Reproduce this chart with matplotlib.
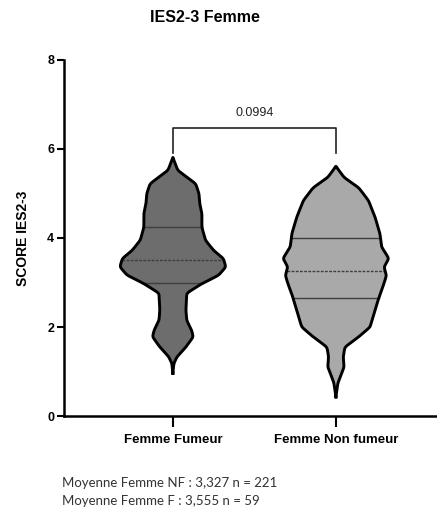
import numpy as np
import matplotlib.pyplot as plt
from matplotlib import font_manager

# === DONNEES ===
groupes = ["Femme Fumeur", "Femme Non fumeur"]
couleurs = ["#6d6d6d", "#a9a9aa"]

# profils des violons (score, demi-largeur)
fumeur_y = [0.96, 1.18, 1.33, 1.55, 1.78, 1.93, 2.15, 2.38, 2.76, 2.98, 3.16, 3.35, 3.54,
            3.72, 3.95, 4.24, 4.55, 4.77, 5.0, 5.22, 5.52, 5.81]
fumeur_w = [0.0, 0.006, 0.025, 0.08, 0.125, 0.115, 0.085, 0.08, 0.085, 0.18, 0.28, 0.325, 0.31,
            0.25, 0.2, 0.178, 0.178, 0.165, 0.16, 0.14, 0.03, 0.0]
nonfumeur_y = [0.43, 0.74, 0.87, 1.1, 1.33, 1.55, 1.78, 2.0, 2.31, 2.68, 2.98, 3.16, 3.35,
               3.54, 3.8, 4.1, 4.47, 4.84, 5.13, 5.36, 5.61]
nonfumeur_w = [0.0, 0.012, 0.025, 0.05, 0.045, 0.055, 0.14, 0.21, 0.235, 0.265, 0.295, 0.31, 0.295,
               0.325, 0.28, 0.27, 0.24, 0.2, 0.14, 0.05, 0.0]

# quartiles (Q1, mediane, Q3)
quartiles = [(2.98, 3.5, 4.25), (2.65, 3.25, 4.01)]
p_valeur = "0.0994"
notes = ["Moyenne Femme NF : 3,327 n = 221", "Moyenne Femme F : 3,555 n = 59"]

noms = {f.name for f in font_manager.fontManager.ttflist}
etroit = "Liberation Sans Narrow" if "Liberation Sans Narrow" in noms else "Liberation Sans"
plt.rcParams['font.family'] = [etroit, 'DejaVu Sans']


def lisse(y, w):
    yy = np.linspace(y[0], y[-1], 400)
    ww = np.interp(yy, y, w)
    k = np.exp(-0.5 * (np.arange(-8, 9) / 2.5) ** 2)
    k /= k.sum()
    pad = np.pad(ww, 8, mode='edge')
    ww2 = np.convolve(pad, k, mode='same')[8:-8]
    ww2[0] = ww2[-1] = 0
    return yy, ww2


fig = plt.figure(figsize=(4.37, 5.08), dpi=100)
ax = fig.add_axes([0.146, 0.181, 0.854, 0.701])

profils = [(fumeur_y, fumeur_w), (nonfumeur_y, nonfumeur_w)]
for i, (py, pw) in enumerate(profils):
    yy, ww = lisse(py, pw)
    ax.fill_betweenx(yy, i - ww, i + ww, color=couleurs[i], lw=0, zorder=2)
    ax.plot(np.r_[i - ww, (i + ww)[::-1]], np.r_[yy, yy[::-1]], color="black", lw=2.1,
            zorder=4, solid_joinstyle="round")
    for j, q in enumerate(quartiles[i]):
        half = np.interp(q, yy, ww)
        ax.plot([i - half, i + half], [q, q], color="#3e3e3e", lw=1.0,
                ls=(0, (2, 1)) if j == 1 else "-", zorder=3)

# crochet de significativite
ax.plot([0, 0, 1, 1], [5.92, 6.46, 6.46, 5.92], color="#222222", lw=1.2, zorder=4)
ax.text(0.5, 6.68, p_valeur, ha="center", va="bottom", fontsize=9, color="#222222")

ax.set_xlim(-0.669, 1.62)
ax.set_ylim(0, 8)
ax.set_yticks([0, 2, 4, 6, 8])
ax.set_xticks([0, 1])
ax.set_xticklabels(groupes, fontsize=9.5, fontweight="bold")
for lab in ax.get_yticklabels():
    lab.set_fontweight("bold")
    lab.set_fontsize(9)
ax.tick_params(axis="y", direction="out", length=5, width=1.5, pad=2)
ax.tick_params(axis="x", direction="out", length=8, width=1.5, pad=5)
for s in ["top", "right"]:
    ax.spines[s].set_visible(False)
for s in ["left", "bottom"]:
    ax.spines[s].set_linewidth(1.8)
ax.set_ylabel("SCORE IES2-3", fontsize=10, fontweight="bold", labelpad=12)

fig.text(0.47, 0.965, "IES2-3 Femme", ha="center", va="center", fontsize=11.5, fontweight="bold")
fig.text(0.142, 1 - 483 / 508, notes[0], ha="left", va="center", fontsize=9.5,
         color="#333333", family=["Lato", "DejaVu Sans"])
fig.text(0.142, 1 - 501 / 508, notes[1], ha="left", va="center", fontsize=9.5,
         color="#333333", family=["Lato", "DejaVu Sans"])

fig.savefig("out.png", dpi=100)
